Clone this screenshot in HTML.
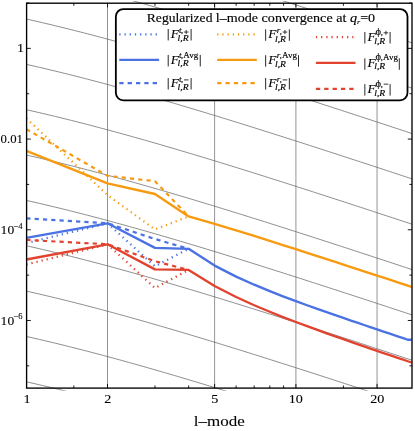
<!DOCTYPE html><html><head><meta charset="utf-8"><title>Regularized l-mode convergence</title><style>html,body{margin:0;padding:0;background:#fff}svg{display:block;will-change:transform}text{font-family:"Liberation Serif",serif;fill:#000;stroke:#000;stroke-width:0.08px}.lg text{stroke-width:0.14px}</style></head><body>
<svg width="415" height="431" viewBox="0 0 415 431">
<rect width="415" height="431" fill="#fff"/>
<defs><clipPath id="cg"><rect x="26.6" y="1.0" width="385.4" height="389.70000000000005"/></clipPath><clipPath id="cp"><rect x="26.6" y="3.2" width="384.9" height="384.90000000000003"/></clipPath></defs>
<line x1="107.50" y1="3.2" x2="107.50" y2="388.1" stroke="#787878" stroke-width="0.8"/>
<line x1="214.60" y1="3.2" x2="214.60" y2="388.1" stroke="#787878" stroke-width="0.8"/>
<line x1="295.91" y1="3.2" x2="295.91" y2="388.1" stroke="#787878" stroke-width="0.8"/>
<line x1="377.05" y1="3.2" x2="377.05" y2="388.1" stroke="#787878" stroke-width="0.8"/>
<g clip-path="url(#cg)" fill="none" stroke="#686868" stroke-width="0.75">
<polyline points="26.60,-117.00 29.81,-116.27 33.02,-115.54 36.23,-114.80 39.45,-114.06 42.66,-113.31 45.87,-112.55 49.08,-111.79 52.29,-111.02 55.50,-110.25 58.72,-109.47 61.93,-108.68 65.14,-107.89 68.35,-107.09 71.56,-106.29 74.78,-105.48 77.99,-104.66 81.20,-103.84 84.41,-103.02 87.62,-102.19 90.83,-101.35 94.04,-100.51 97.26,-99.66 100.47,-98.81 103.68,-97.95 106.89,-97.09 110.10,-96.23 113.31,-95.36 116.53,-94.48 119.74,-93.60 122.95,-92.72 126.16,-91.83 129.37,-90.94 132.58,-90.04 135.80,-89.14 139.01,-88.23 142.22,-87.32 145.43,-86.41 148.64,-85.49 151.85,-84.57 155.07,-83.65 158.28,-82.72 161.49,-81.79 164.70,-80.85 167.91,-79.91 171.12,-78.97 174.34,-78.02 177.55,-77.08 180.76,-76.12 183.97,-75.17 187.18,-74.21 190.39,-73.25 193.61,-72.29 196.82,-71.32 200.03,-70.35 203.24,-69.38 206.45,-68.41 209.66,-67.43 212.88,-66.45 216.09,-65.47 219.30,-64.48 222.51,-63.49 225.72,-62.51 228.93,-61.51 232.15,-60.52 235.36,-59.52 238.57,-58.53 241.78,-57.53 244.99,-56.52 248.20,-55.52 251.42,-54.51 254.63,-53.51 257.84,-52.50 261.05,-51.48 264.26,-50.47 267.48,-49.46 270.69,-48.44 273.90,-47.42 277.11,-46.40 280.32,-45.38 283.53,-44.36 286.75,-43.33 289.96,-42.31 293.17,-41.28 296.38,-40.25 299.59,-39.22 302.80,-38.19 306.01,-37.15 309.23,-36.12 312.44,-35.09 315.65,-34.05 318.86,-33.01 322.07,-31.97 325.29,-30.93 328.50,-29.89 331.71,-28.85 334.92,-27.81 338.13,-26.76 341.34,-25.72 344.56,-24.67 347.77,-23.63 350.98,-22.58 354.19,-21.53 357.40,-20.48 360.61,-19.43 363.83,-18.38 367.04,-17.33 370.25,-16.28 373.46,-15.22 376.67,-14.17 379.88,-13.12 383.09,-12.06 386.31,-11.00 389.52,-9.95 392.73,-8.89 395.94,-7.83 399.15,-6.77 402.37,-5.72 405.58,-4.66 408.79,-3.60 412.00,-2.53"/>
<polyline points="26.60,-71.65 29.81,-70.92 33.02,-70.19 36.23,-69.45 39.45,-68.71 42.66,-67.96 45.87,-67.20 49.08,-66.44 52.29,-65.67 55.50,-64.90 58.72,-64.12 61.93,-63.33 65.14,-62.54 68.35,-61.74 71.56,-60.94 74.78,-60.13 77.99,-59.31 81.20,-58.49 84.41,-57.67 87.62,-56.84 90.83,-56.00 94.04,-55.16 97.26,-54.31 100.47,-53.46 103.68,-52.60 106.89,-51.74 110.10,-50.88 113.31,-50.01 116.53,-49.13 119.74,-48.25 122.95,-47.37 126.16,-46.48 129.37,-45.59 132.58,-44.69 135.80,-43.79 139.01,-42.88 142.22,-41.97 145.43,-41.06 148.64,-40.14 151.85,-39.22 155.07,-38.30 158.28,-37.37 161.49,-36.44 164.70,-35.50 167.91,-34.56 171.12,-33.62 174.34,-32.67 177.55,-31.73 180.76,-30.77 183.97,-29.82 187.18,-28.86 190.39,-27.90 193.61,-26.94 196.82,-25.97 200.03,-25.00 203.24,-24.03 206.45,-23.06 209.66,-22.08 212.88,-21.10 216.09,-20.12 219.30,-19.13 222.51,-18.14 225.72,-17.16 228.93,-16.16 232.15,-15.17 235.36,-14.17 238.57,-13.18 241.78,-12.18 244.99,-11.17 248.20,-10.17 251.42,-9.16 254.63,-8.16 257.84,-7.15 261.05,-6.13 264.26,-5.12 267.48,-4.11 270.69,-3.09 273.90,-2.07 277.11,-1.05 280.32,-0.03 283.53,0.99 286.75,2.02 289.96,3.04 293.17,4.07 296.38,5.10 299.59,6.13 302.80,7.16 306.01,8.20 309.23,9.23 312.44,10.26 315.65,11.30 318.86,12.34 322.07,13.38 325.29,14.42 328.50,15.46 331.71,16.50 334.92,17.54 338.13,18.59 341.34,19.63 344.56,20.68 347.77,21.72 350.98,22.77 354.19,23.82 357.40,24.87 360.61,25.92 363.83,26.97 367.04,28.02 370.25,29.07 373.46,30.13 376.67,31.18 379.88,32.23 383.09,33.29 386.31,34.35 389.52,35.40 392.73,36.46 395.94,37.52 399.15,38.58 402.37,39.63 405.58,40.69 408.79,41.75 412.00,42.82"/>
<polyline points="26.60,-26.30 29.81,-25.57 33.02,-24.84 36.23,-24.10 39.45,-23.36 42.66,-22.61 45.87,-21.85 49.08,-21.09 52.29,-20.32 55.50,-19.55 58.72,-18.77 61.93,-17.98 65.14,-17.19 68.35,-16.39 71.56,-15.59 74.78,-14.78 77.99,-13.96 81.20,-13.14 84.41,-12.32 87.62,-11.49 90.83,-10.65 94.04,-9.81 97.26,-8.96 100.47,-8.11 103.68,-7.25 106.89,-6.39 110.10,-5.53 113.31,-4.66 116.53,-3.78 119.74,-2.90 122.95,-2.02 126.16,-1.13 129.37,-0.24 132.58,0.66 135.80,1.56 139.01,2.47 142.22,3.38 145.43,4.29 148.64,5.21 151.85,6.13 155.07,7.05 158.28,7.98 161.49,8.91 164.70,9.85 167.91,10.79 171.12,11.73 174.34,12.68 177.55,13.62 180.76,14.58 183.97,15.53 187.18,16.49 190.39,17.45 193.61,18.41 196.82,19.38 200.03,20.35 203.24,21.32 206.45,22.29 209.66,23.27 212.88,24.25 216.09,25.23 219.30,26.22 222.51,27.21 225.72,28.19 228.93,29.19 232.15,30.18 235.36,31.18 238.57,32.17 241.78,33.17 244.99,34.18 248.20,35.18 251.42,36.19 254.63,37.19 257.84,38.20 261.05,39.22 264.26,40.23 267.48,41.24 270.69,42.26 273.90,43.28 277.11,44.30 280.32,45.32 283.53,46.34 286.75,47.37 289.96,48.39 293.17,49.42 296.38,50.45 299.59,51.48 302.80,52.51 306.01,53.55 309.23,54.58 312.44,55.61 315.65,56.65 318.86,57.69 322.07,58.73 325.29,59.77 328.50,60.81 331.71,61.85 334.92,62.89 338.13,63.94 341.34,64.98 344.56,66.03 347.77,67.07 350.98,68.12 354.19,69.17 357.40,70.22 360.61,71.27 363.83,72.32 367.04,73.37 370.25,74.42 373.46,75.48 376.67,76.53 379.88,77.58 383.09,78.64 386.31,79.70 389.52,80.75 392.73,81.81 395.94,82.87 399.15,83.93 402.37,84.98 405.58,86.04 408.79,87.10 412.00,88.17"/>
<polyline points="26.60,19.05 29.81,19.78 33.02,20.51 36.23,21.25 39.45,21.99 42.66,22.74 45.87,23.50 49.08,24.26 52.29,25.03 55.50,25.80 58.72,26.58 61.93,27.37 65.14,28.16 68.35,28.96 71.56,29.76 74.78,30.57 77.99,31.39 81.20,32.21 84.41,33.03 87.62,33.86 90.83,34.70 94.04,35.54 97.26,36.39 100.47,37.24 103.68,38.10 106.89,38.96 110.10,39.82 113.31,40.69 116.53,41.57 119.74,42.45 122.95,43.33 126.16,44.22 129.37,45.11 132.58,46.01 135.80,46.91 139.01,47.82 142.22,48.73 145.43,49.64 148.64,50.56 151.85,51.48 155.07,52.40 158.28,53.33 161.49,54.26 164.70,55.20 167.91,56.14 171.12,57.08 174.34,58.03 177.55,58.97 180.76,59.93 183.97,60.88 187.18,61.84 190.39,62.80 193.61,63.76 196.82,64.73 200.03,65.70 203.24,66.67 206.45,67.64 209.66,68.62 212.88,69.60 216.09,70.58 219.30,71.57 222.51,72.56 225.72,73.54 228.93,74.54 232.15,75.53 235.36,76.53 238.57,77.52 241.78,78.52 244.99,79.53 248.20,80.53 251.42,81.54 254.63,82.54 257.84,83.55 261.05,84.57 264.26,85.58 267.48,86.59 270.69,87.61 273.90,88.63 277.11,89.65 280.32,90.67 283.53,91.69 286.75,92.72 289.96,93.74 293.17,94.77 296.38,95.80 299.59,96.83 302.80,97.86 306.01,98.90 309.23,99.93 312.44,100.96 315.65,102.00 318.86,103.04 322.07,104.08 325.29,105.12 328.50,106.16 331.71,107.20 334.92,108.24 338.13,109.29 341.34,110.33 344.56,111.38 347.77,112.42 350.98,113.47 354.19,114.52 357.40,115.57 360.61,116.62 363.83,117.67 367.04,118.72 370.25,119.77 373.46,120.83 376.67,121.88 379.88,122.93 383.09,123.99 386.31,125.05 389.52,126.10 392.73,127.16 395.94,128.22 399.15,129.28 402.37,130.33 405.58,131.39 408.79,132.45 412.00,133.52"/>
<polyline points="26.60,64.40 29.81,65.13 33.02,65.86 36.23,66.60 39.45,67.34 42.66,68.09 45.87,68.85 49.08,69.61 52.29,70.38 55.50,71.15 58.72,71.93 61.93,72.72 65.14,73.51 68.35,74.31 71.56,75.11 74.78,75.92 77.99,76.74 81.20,77.56 84.41,78.38 87.62,79.21 90.83,80.05 94.04,80.89 97.26,81.74 100.47,82.59 103.68,83.45 106.89,84.31 110.10,85.17 113.31,86.04 116.53,86.92 119.74,87.80 122.95,88.68 126.16,89.57 129.37,90.46 132.58,91.36 135.80,92.26 139.01,93.17 142.22,94.08 145.43,94.99 148.64,95.91 151.85,96.83 155.07,97.75 158.28,98.68 161.49,99.61 164.70,100.55 167.91,101.49 171.12,102.43 174.34,103.38 177.55,104.32 180.76,105.28 183.97,106.23 187.18,107.19 190.39,108.15 193.61,109.11 196.82,110.08 200.03,111.05 203.24,112.02 206.45,112.99 209.66,113.97 212.88,114.95 216.09,115.93 219.30,116.92 222.51,117.91 225.72,118.89 228.93,119.89 232.15,120.88 235.36,121.88 238.57,122.87 241.78,123.87 244.99,124.88 248.20,125.88 251.42,126.89 254.63,127.89 257.84,128.90 261.05,129.92 264.26,130.93 267.48,131.94 270.69,132.96 273.90,133.98 277.11,135.00 280.32,136.02 283.53,137.04 286.75,138.07 289.96,139.09 293.17,140.12 296.38,141.15 299.59,142.18 302.80,143.21 306.01,144.25 309.23,145.28 312.44,146.31 315.65,147.35 318.86,148.39 322.07,149.43 325.29,150.47 328.50,151.51 331.71,152.55 334.92,153.59 338.13,154.64 341.34,155.68 344.56,156.73 347.77,157.77 350.98,158.82 354.19,159.87 357.40,160.92 360.61,161.97 363.83,163.02 367.04,164.07 370.25,165.12 373.46,166.18 376.67,167.23 379.88,168.28 383.09,169.34 386.31,170.40 389.52,171.45 392.73,172.51 395.94,173.57 399.15,174.63 402.37,175.68 405.58,176.74 408.79,177.80 412.00,178.87"/>
<polyline points="26.60,109.75 29.81,110.48 33.02,111.21 36.23,111.95 39.45,112.69 42.66,113.44 45.87,114.20 49.08,114.96 52.29,115.73 55.50,116.50 58.72,117.28 61.93,118.07 65.14,118.86 68.35,119.66 71.56,120.46 74.78,121.27 77.99,122.09 81.20,122.91 84.41,123.73 87.62,124.56 90.83,125.40 94.04,126.24 97.26,127.09 100.47,127.94 103.68,128.80 106.89,129.66 110.10,130.52 113.31,131.39 116.53,132.27 119.74,133.15 122.95,134.03 126.16,134.92 129.37,135.81 132.58,136.71 135.80,137.61 139.01,138.52 142.22,139.43 145.43,140.34 148.64,141.26 151.85,142.18 155.07,143.10 158.28,144.03 161.49,144.96 164.70,145.90 167.91,146.84 171.12,147.78 174.34,148.73 177.55,149.67 180.76,150.63 183.97,151.58 187.18,152.54 190.39,153.50 193.61,154.46 196.82,155.43 200.03,156.40 203.24,157.37 206.45,158.34 209.66,159.32 212.88,160.30 216.09,161.28 219.30,162.27 222.51,163.26 225.72,164.24 228.93,165.24 232.15,166.23 235.36,167.23 238.57,168.22 241.78,169.22 244.99,170.23 248.20,171.23 251.42,172.24 254.63,173.24 257.84,174.25 261.05,175.27 264.26,176.28 267.48,177.29 270.69,178.31 273.90,179.33 277.11,180.35 280.32,181.37 283.53,182.39 286.75,183.42 289.96,184.44 293.17,185.47 296.38,186.50 299.59,187.53 302.80,188.56 306.01,189.60 309.23,190.63 312.44,191.66 315.65,192.70 318.86,193.74 322.07,194.78 325.29,195.82 328.50,196.86 331.71,197.90 334.92,198.94 338.13,199.99 341.34,201.03 344.56,202.08 347.77,203.12 350.98,204.17 354.19,205.22 357.40,206.27 360.61,207.32 363.83,208.37 367.04,209.42 370.25,210.47 373.46,211.53 376.67,212.58 379.88,213.63 383.09,214.69 386.31,215.75 389.52,216.80 392.73,217.86 395.94,218.92 399.15,219.98 402.37,221.03 405.58,222.09 408.79,223.15 412.00,224.22"/>
<polyline points="26.60,155.10 29.81,155.83 33.02,156.56 36.23,157.30 39.45,158.04 42.66,158.79 45.87,159.55 49.08,160.31 52.29,161.08 55.50,161.85 58.72,162.63 61.93,163.42 65.14,164.21 68.35,165.01 71.56,165.81 74.78,166.62 77.99,167.44 81.20,168.26 84.41,169.08 87.62,169.91 90.83,170.75 94.04,171.59 97.26,172.44 100.47,173.29 103.68,174.15 106.89,175.01 110.10,175.87 113.31,176.74 116.53,177.62 119.74,178.50 122.95,179.38 126.16,180.27 129.37,181.16 132.58,182.06 135.80,182.96 139.01,183.87 142.22,184.78 145.43,185.69 148.64,186.61 151.85,187.53 155.07,188.45 158.28,189.38 161.49,190.31 164.70,191.25 167.91,192.19 171.12,193.13 174.34,194.08 177.55,195.02 180.76,195.98 183.97,196.93 187.18,197.89 190.39,198.85 193.61,199.81 196.82,200.78 200.03,201.75 203.24,202.72 206.45,203.69 209.66,204.67 212.88,205.65 216.09,206.63 219.30,207.62 222.51,208.61 225.72,209.59 228.93,210.59 232.15,211.58 235.36,212.58 238.57,213.57 241.78,214.57 244.99,215.58 248.20,216.58 251.42,217.59 254.63,218.59 257.84,219.60 261.05,220.62 264.26,221.63 267.48,222.64 270.69,223.66 273.90,224.68 277.11,225.70 280.32,226.72 283.53,227.74 286.75,228.77 289.96,229.79 293.17,230.82 296.38,231.85 299.59,232.88 302.80,233.91 306.01,234.95 309.23,235.98 312.44,237.01 315.65,238.05 318.86,239.09 322.07,240.13 325.29,241.17 328.50,242.21 331.71,243.25 334.92,244.29 338.13,245.34 341.34,246.38 344.56,247.43 347.77,248.47 350.98,249.52 354.19,250.57 357.40,251.62 360.61,252.67 363.83,253.72 367.04,254.77 370.25,255.82 373.46,256.88 376.67,257.93 379.88,258.98 383.09,260.04 386.31,261.10 389.52,262.15 392.73,263.21 395.94,264.27 399.15,265.33 402.37,266.38 405.58,267.44 408.79,268.50 412.00,269.57"/>
<polyline points="26.60,200.45 29.81,201.18 33.02,201.91 36.23,202.65 39.45,203.39 42.66,204.14 45.87,204.90 49.08,205.66 52.29,206.43 55.50,207.20 58.72,207.98 61.93,208.77 65.14,209.56 68.35,210.36 71.56,211.16 74.78,211.97 77.99,212.79 81.20,213.61 84.41,214.43 87.62,215.26 90.83,216.10 94.04,216.94 97.26,217.79 100.47,218.64 103.68,219.50 106.89,220.36 110.10,221.22 113.31,222.09 116.53,222.97 119.74,223.85 122.95,224.73 126.16,225.62 129.37,226.51 132.58,227.41 135.80,228.31 139.01,229.22 142.22,230.13 145.43,231.04 148.64,231.96 151.85,232.88 155.07,233.80 158.28,234.73 161.49,235.66 164.70,236.60 167.91,237.54 171.12,238.48 174.34,239.43 177.55,240.37 180.76,241.33 183.97,242.28 187.18,243.24 190.39,244.20 193.61,245.16 196.82,246.13 200.03,247.10 203.24,248.07 206.45,249.04 209.66,250.02 212.88,251.00 216.09,251.98 219.30,252.97 222.51,253.96 225.72,254.94 228.93,255.94 232.15,256.93 235.36,257.93 238.57,258.92 241.78,259.92 244.99,260.93 248.20,261.93 251.42,262.94 254.63,263.94 257.84,264.95 261.05,265.97 264.26,266.98 267.48,267.99 270.69,269.01 273.90,270.03 277.11,271.05 280.32,272.07 283.53,273.09 286.75,274.12 289.96,275.14 293.17,276.17 296.38,277.20 299.59,278.23 302.80,279.26 306.01,280.30 309.23,281.33 312.44,282.36 315.65,283.40 318.86,284.44 322.07,285.48 325.29,286.52 328.50,287.56 331.71,288.60 334.92,289.64 338.13,290.69 341.34,291.73 344.56,292.78 347.77,293.82 350.98,294.87 354.19,295.92 357.40,296.97 360.61,298.02 363.83,299.07 367.04,300.12 370.25,301.17 373.46,302.23 376.67,303.28 379.88,304.33 383.09,305.39 386.31,306.45 389.52,307.50 392.73,308.56 395.94,309.62 399.15,310.68 402.37,311.73 405.58,312.79 408.79,313.85 412.00,314.92"/>
<polyline points="26.60,245.80 29.81,246.53 33.02,247.26 36.23,248.00 39.45,248.74 42.66,249.49 45.87,250.25 49.08,251.01 52.29,251.78 55.50,252.55 58.72,253.33 61.93,254.12 65.14,254.91 68.35,255.71 71.56,256.51 74.78,257.32 77.99,258.14 81.20,258.96 84.41,259.78 87.62,260.61 90.83,261.45 94.04,262.29 97.26,263.14 100.47,263.99 103.68,264.85 106.89,265.71 110.10,266.57 113.31,267.44 116.53,268.32 119.74,269.20 122.95,270.08 126.16,270.97 129.37,271.86 132.58,272.76 135.80,273.66 139.01,274.57 142.22,275.48 145.43,276.39 148.64,277.31 151.85,278.23 155.07,279.15 158.28,280.08 161.49,281.01 164.70,281.95 167.91,282.89 171.12,283.83 174.34,284.78 177.55,285.72 180.76,286.68 183.97,287.63 187.18,288.59 190.39,289.55 193.61,290.51 196.82,291.48 200.03,292.45 203.24,293.42 206.45,294.39 209.66,295.37 212.88,296.35 216.09,297.33 219.30,298.32 222.51,299.31 225.72,300.29 228.93,301.29 232.15,302.28 235.36,303.28 238.57,304.27 241.78,305.27 244.99,306.28 248.20,307.28 251.42,308.29 254.63,309.29 257.84,310.30 261.05,311.32 264.26,312.33 267.48,313.34 270.69,314.36 273.90,315.38 277.11,316.40 280.32,317.42 283.53,318.44 286.75,319.47 289.96,320.49 293.17,321.52 296.38,322.55 299.59,323.58 302.80,324.61 306.01,325.65 309.23,326.68 312.44,327.71 315.65,328.75 318.86,329.79 322.07,330.83 325.29,331.87 328.50,332.91 331.71,333.95 334.92,334.99 338.13,336.04 341.34,337.08 344.56,338.13 347.77,339.17 350.98,340.22 354.19,341.27 357.40,342.32 360.61,343.37 363.83,344.42 367.04,345.47 370.25,346.52 373.46,347.58 376.67,348.63 379.88,349.68 383.09,350.74 386.31,351.80 389.52,352.85 392.73,353.91 395.94,354.97 399.15,356.03 402.37,357.08 405.58,358.14 408.79,359.20 412.00,360.27"/>
<polyline points="26.60,291.15 29.81,291.88 33.02,292.61 36.23,293.35 39.45,294.09 42.66,294.84 45.87,295.60 49.08,296.36 52.29,297.13 55.50,297.90 58.72,298.68 61.93,299.47 65.14,300.26 68.35,301.06 71.56,301.86 74.78,302.67 77.99,303.49 81.20,304.31 84.41,305.13 87.62,305.96 90.83,306.80 94.04,307.64 97.26,308.49 100.47,309.34 103.68,310.20 106.89,311.06 110.10,311.92 113.31,312.79 116.53,313.67 119.74,314.55 122.95,315.43 126.16,316.32 129.37,317.21 132.58,318.11 135.80,319.01 139.01,319.92 142.22,320.83 145.43,321.74 148.64,322.66 151.85,323.58 155.07,324.50 158.28,325.43 161.49,326.36 164.70,327.30 167.91,328.24 171.12,329.18 174.34,330.13 177.55,331.07 180.76,332.03 183.97,332.98 187.18,333.94 190.39,334.90 193.61,335.86 196.82,336.83 200.03,337.80 203.24,338.77 206.45,339.74 209.66,340.72 212.88,341.70 216.09,342.68 219.30,343.67 222.51,344.66 225.72,345.64 228.93,346.64 232.15,347.63 235.36,348.63 238.57,349.62 241.78,350.62 244.99,351.63 248.20,352.63 251.42,353.64 254.63,354.64 257.84,355.65 261.05,356.67 264.26,357.68 267.48,358.69 270.69,359.71 273.90,360.73 277.11,361.75 280.32,362.77 283.53,363.79 286.75,364.82 289.96,365.84 293.17,366.87 296.38,367.90 299.59,368.93 302.80,369.96 306.01,371.00 309.23,372.03 312.44,373.06 315.65,374.10 318.86,375.14 322.07,376.18 325.29,377.22 328.50,378.26 331.71,379.30 334.92,380.34 338.13,381.39 341.34,382.43 344.56,383.48 347.77,384.52 350.98,385.57 354.19,386.62 357.40,387.67 360.61,388.72 363.83,389.77 367.04,390.82 370.25,391.87 373.46,392.93 376.67,393.98 379.88,395.03 383.09,396.09 386.31,397.15 389.52,398.20 392.73,399.26 395.94,400.32 399.15,401.38 402.37,402.43 405.58,403.49 408.79,404.55 412.00,405.62"/>
<polyline points="26.60,336.50 29.81,337.23 33.02,337.96 36.23,338.70 39.45,339.44 42.66,340.19 45.87,340.95 49.08,341.71 52.29,342.48 55.50,343.25 58.72,344.03 61.93,344.82 65.14,345.61 68.35,346.41 71.56,347.21 74.78,348.02 77.99,348.84 81.20,349.66 84.41,350.48 87.62,351.31 90.83,352.15 94.04,352.99 97.26,353.84 100.47,354.69 103.68,355.55 106.89,356.41 110.10,357.27 113.31,358.14 116.53,359.02 119.74,359.90 122.95,360.78 126.16,361.67 129.37,362.56 132.58,363.46 135.80,364.36 139.01,365.27 142.22,366.18 145.43,367.09 148.64,368.01 151.85,368.93 155.07,369.85 158.28,370.78 161.49,371.71 164.70,372.65 167.91,373.59 171.12,374.53 174.34,375.48 177.55,376.42 180.76,377.38 183.97,378.33 187.18,379.29 190.39,380.25 193.61,381.21 196.82,382.18 200.03,383.15 203.24,384.12 206.45,385.09 209.66,386.07 212.88,387.05 216.09,388.03 219.30,389.02 222.51,390.01 225.72,390.99 228.93,391.99 232.15,392.98 235.36,393.98 238.57,394.97 241.78,395.97 244.99,396.98 248.20,397.98 251.42,398.99 254.63,399.99 257.84,401.00 261.05,402.02 264.26,403.03 267.48,404.04 270.69,405.06 273.90,406.08 277.11,407.10 280.32,408.12 283.53,409.14 286.75,410.17 289.96,411.19 293.17,412.22 296.38,413.25 299.59,414.28 302.80,415.31 306.01,416.35 309.23,417.38 312.44,418.41 315.65,419.45 318.86,420.49 322.07,421.53 325.29,422.57 328.50,423.61 331.71,424.65 334.92,425.69 338.13,426.74 341.34,427.78 344.56,428.83 347.77,429.87 350.98,430.92 354.19,431.97 357.40,433.02 360.61,434.07 363.83,435.12 367.04,436.17 370.25,437.22 373.46,438.28 376.67,439.33 379.88,440.38 383.09,441.44 386.31,442.50 389.52,443.55 392.73,444.61 395.94,445.67 399.15,446.73 402.37,447.78 405.58,448.84 408.79,449.90 412.00,450.97"/>
<polyline points="26.60,381.85 29.81,382.58 33.02,383.31 36.23,384.05 39.45,384.79 42.66,385.54 45.87,386.30 49.08,387.06 52.29,387.83 55.50,388.60 58.72,389.38 61.93,390.17 65.14,390.96 68.35,391.76 71.56,392.56 74.78,393.37 77.99,394.19 81.20,395.01 84.41,395.83 87.62,396.66 90.83,397.50 94.04,398.34 97.26,399.19 100.47,400.04 103.68,400.90 106.89,401.76 110.10,402.62 113.31,403.49 116.53,404.37 119.74,405.25 122.95,406.13 126.16,407.02 129.37,407.91 132.58,408.81 135.80,409.71 139.01,410.62 142.22,411.53 145.43,412.44 148.64,413.36 151.85,414.28 155.07,415.20 158.28,416.13 161.49,417.06 164.70,418.00 167.91,418.94 171.12,419.88 174.34,420.83 177.55,421.77 180.76,422.73 183.97,423.68 187.18,424.64 190.39,425.60 193.61,426.56 196.82,427.53 200.03,428.50 203.24,429.47 206.45,430.44 209.66,431.42 212.88,432.40 216.09,433.38 219.30,434.37 222.51,435.36 225.72,436.34 228.93,437.34 232.15,438.33 235.36,439.33 238.57,440.32 241.78,441.32 244.99,442.33 248.20,443.33 251.42,444.34 254.63,445.34 257.84,446.35 261.05,447.37 264.26,448.38 267.48,449.39 270.69,450.41 273.90,451.43 277.11,452.45 280.32,453.47 283.53,454.49 286.75,455.52 289.96,456.54 293.17,457.57 296.38,458.60 299.59,459.63 302.80,460.66 306.01,461.70 309.23,462.73 312.44,463.76 315.65,464.80 318.86,465.84 322.07,466.88 325.29,467.92 328.50,468.96 331.71,470.00 334.92,471.04 338.13,472.09 341.34,473.13 344.56,474.18 347.77,475.22 350.98,476.27 354.19,477.32 357.40,478.37 360.61,479.42 363.83,480.47 367.04,481.52 370.25,482.57 373.46,483.63 376.67,484.68 379.88,485.73 383.09,486.79 386.31,487.85 389.52,488.90 392.73,489.96 395.94,491.02 399.15,492.08 402.37,493.13 405.58,494.19 408.79,495.25 412.00,496.32"/>
<polyline points="26.60,427.20 29.81,427.93 33.02,428.66 36.23,429.40 39.45,430.14 42.66,430.89 45.87,431.65 49.08,432.41 52.29,433.18 55.50,433.95 58.72,434.73 61.93,435.52 65.14,436.31 68.35,437.11 71.56,437.91 74.78,438.72 77.99,439.54 81.20,440.36 84.41,441.18 87.62,442.01 90.83,442.85 94.04,443.69 97.26,444.54 100.47,445.39 103.68,446.25 106.89,447.11 110.10,447.97 113.31,448.84 116.53,449.72 119.74,450.60 122.95,451.48 126.16,452.37 129.37,453.26 132.58,454.16 135.80,455.06 139.01,455.97 142.22,456.88 145.43,457.79 148.64,458.71 151.85,459.63 155.07,460.55 158.28,461.48 161.49,462.41 164.70,463.35 167.91,464.29 171.12,465.23 174.34,466.18 177.55,467.12 180.76,468.08 183.97,469.03 187.18,469.99 190.39,470.95 193.61,471.91 196.82,472.88 200.03,473.85 203.24,474.82 206.45,475.79 209.66,476.77 212.88,477.75 216.09,478.73 219.30,479.72 222.51,480.71 225.72,481.69 228.93,482.69 232.15,483.68 235.36,484.68 238.57,485.67 241.78,486.67 244.99,487.68 248.20,488.68 251.42,489.69 254.63,490.69 257.84,491.70 261.05,492.72 264.26,493.73 267.48,494.74 270.69,495.76 273.90,496.78 277.11,497.80 280.32,498.82 283.53,499.84 286.75,500.87 289.96,501.89 293.17,502.92 296.38,503.95 299.59,504.98 302.80,506.01 306.01,507.05 309.23,508.08 312.44,509.11 315.65,510.15 318.86,511.19 322.07,512.23 325.29,513.27 328.50,514.31 331.71,515.35 334.92,516.39 338.13,517.44 341.34,518.48 344.56,519.53 347.77,520.57 350.98,521.62 354.19,522.67 357.40,523.72 360.61,524.77 363.83,525.82 367.04,526.87 370.25,527.92 373.46,528.98 376.67,530.03 379.88,531.08 383.09,532.14 386.31,533.20 389.52,534.25 392.73,535.31 395.94,536.37 399.15,537.43 402.37,538.48 405.58,539.54 408.79,540.60 412.00,541.67"/>
</g>
<g clip-path="url(#cp)" fill="none" stroke-linejoin="round">
<polyline points="26.36,243.10 107.50,223.30 154.97,266.30 188.65,248.85" stroke="#4a72e3" stroke-width="2.3" stroke-dasharray="1.25 3.95"/>
<polyline points="26.36,237.90 107.50,223.30 154.97,247.90 188.65,248.85 214.60,265.58 236.11,276.58 254.16,284.71 269.79,291.16 283.58,296.54 295.91,301.16 307.07,305.23 317.25,308.86 326.62,312.16 335.30,315.18 343.38,317.97 350.93,320.56 358.03,322.98 364.72,325.26 371.05,327.40 377.05,329.43 382.76,331.35 388.21,333.19 393.41,334.94 398.40,336.61 403.17,338.21 407.77,339.75 412.18,339.75" stroke="#4a72e3" stroke-width="2.35"/>
<polyline points="26.36,218.40 107.50,223.30 154.97,239.00 188.65,248.85" stroke="#4a72e3" stroke-width="2.2" stroke-dasharray="4.2 4.1"/>
<polyline points="26.36,118.30 107.50,195.10 154.97,229.45 188.65,216.45" stroke="#f89a10" stroke-width="2.3" stroke-dasharray="1.25 3.95"/>
<polyline points="26.36,150.80 107.50,183.30 154.97,194.00 188.65,216.45 214.60,223.91 236.11,230.38 254.16,235.99 269.79,240.91 283.58,245.28 295.91,249.22 307.07,252.81 317.25,256.09 326.62,259.12 335.30,261.94 343.38,264.56 350.93,267.03 358.03,269.34 364.72,271.53 371.05,273.61 377.05,275.58 382.76,277.45 388.21,279.24 393.41,280.96 398.40,282.60 403.17,284.17 407.77,285.69 412.18,287.15" stroke="#f89a10" stroke-width="2.35"/>
<polyline points="26.36,129.10 107.50,175.80 154.97,181.20 188.65,216.45" stroke="#f89a10" stroke-width="2.2" stroke-dasharray="4.2 4.1"/>
<polyline points="26.36,264.40 107.50,244.30 154.97,288.00 188.65,269.95" stroke="#e2432f" stroke-width="2.3" stroke-dasharray="1.25 3.95"/>
<polyline points="26.36,259.50 107.50,244.30 154.97,269.40 188.65,269.95 214.60,286.04 236.11,296.98 254.16,305.21 269.79,311.79 283.58,317.29 295.91,322.02 307.07,326.19 317.25,329.91 326.62,333.28 335.30,336.36 343.38,339.20 350.93,341.83 358.03,344.29 364.72,346.60 371.05,348.78 377.05,350.83 382.76,352.78 388.21,354.63 393.41,356.40 398.40,358.09 403.17,359.71 407.77,361.26 412.18,362.75" stroke="#e2432f" stroke-width="2.35"/>
<polyline points="26.36,239.90 107.50,244.30 154.97,261.20 188.65,269.95" stroke="#e2432f" stroke-width="2.2" stroke-dasharray="4.2 4.1"/>
</g>
<rect x="26.6" y="3.2" width="385.4" height="384.90000000000003" fill="none" stroke="#000" stroke-width="1.35"/>
<path d="M107.50,388.1v-4.2M107.50,3.2v4.2M214.60,388.1v-4.2M214.60,3.2v4.2M295.91,388.1v-4.2M295.91,3.2v4.2M377.05,388.1v-4.2M377.05,3.2v4.2M73.83,388.1v-2.6M73.83,3.2v2.6M154.97,388.1v-2.6M154.97,3.2v2.6M188.65,388.1v-2.6M188.65,3.2v2.6M236.11,388.1v-2.6M236.11,3.2v2.6M254.16,388.1v-2.6M254.16,3.2v2.6M269.79,388.1v-2.6M269.79,3.2v2.6M283.58,388.1v-2.6M283.58,3.2v2.6M343.38,388.1v-2.6M343.38,3.2v2.6M26.6,365.82h2.6M412.0,365.82h-2.6M26.6,320.47h4.2M412.0,320.47h-4.2M26.6,275.12h2.6M412.0,275.12h-2.6M26.6,229.77h4.2M412.0,229.77h-4.2M26.6,184.42h2.6M412.0,184.42h-2.6M26.6,139.07h4.2M412.0,139.07h-4.2M26.6,93.72h2.6M412.0,93.72h-2.6M26.6,48.37h4.2M412.0,48.37h-4.2M26.6,3.02h2.6M412.0,3.02h-2.6" stroke="#000" stroke-width="0.9" fill="none"/>
<text transform="translate(27.10,402.80) scale(1.18,1)" font-size="12" text-anchor="middle">1</text>
<text transform="translate(107.70,402.80) scale(1.18,1)" font-size="12" text-anchor="middle">2</text>
<text transform="translate(214.90,402.80) scale(1.18,1)" font-size="12" text-anchor="middle">5</text>
<text transform="translate(295.80,402.80) scale(1.18,1)" font-size="12" text-anchor="middle">10</text>
<text transform="translate(377.20,402.80) scale(1.18,1)" font-size="12" text-anchor="middle">20</text>
<text transform="translate(24.10,52.27) scale(1.18,1)" font-size="12" text-anchor="end">1</text>
<text transform="translate(22.90,143.17) scale(1.065,1)" font-size="12" text-anchor="end">0.01</text>
<text transform="translate(0.60,233.87) scale(1.13,1)" font-size="12" text-anchor="start">10</text>
<text transform="translate(13.40,228.77) scale(1.08,1)" font-size="8.0" text-anchor="start">−4</text>
<text transform="translate(0.60,324.57) scale(1.13,1)" font-size="12" text-anchor="start">10</text>
<text transform="translate(13.40,319.47) scale(1.08,1)" font-size="8.0" text-anchor="start">−6</text>
<text transform="translate(219.30,426.00) scale(1.11,1)" font-size="15.3" text-anchor="middle">l–mode</text>
<g class="lg">
<rect x="115.85" y="9.05" width="291.65" height="91.3" rx="7.5" ry="7.5" fill="#fff" stroke="#000" stroke-width="1.8"/>
<text transform="translate(146.80,21.50) scale(1.133,1)" font-size="12" text-anchor="start">Regularized</text>
<text transform="translate(215.75,21.50) scale(1.177,1)" font-size="12" text-anchor="start">l–mode convergence at <tspan font-style="italic">q</tspan><tspan font-style="italic" font-size="7" dy="2.0">r</tspan><tspan dy="-2.0">=0</tspan></text>
<line x1="119.3" y1="34.4" x2="159.1" y2="34.4" stroke="#4a72e3" stroke-width="2.3" stroke-dasharray="1.25 3.94"/>
<line x1="119.3" y1="59.95" x2="159.1" y2="59.95" stroke="#4a72e3" stroke-width="2.2"/>
<line x1="119.3" y1="83.05" x2="159.1" y2="83.05" stroke="#4a72e3" stroke-width="2.2" stroke-dasharray="4.3 4.04"/>
<line x1="168.21" y1="28.95" x2="168.21" y2="40.449999999999996" stroke="#000" stroke-width="0.85"/>
<text transform="translate(170.76,37.65) scale(1.12,1)" font-size="12" text-anchor="start" font-style="italic">F</text>
<text transform="translate(178.96,32.95) scale(1.1,1)" font-size="8.4" text-anchor="start" font-style="italic">t</text>
<text transform="translate(181.06,33.25) scale(1.18,1)" font-size="7.3" text-anchor="start">,</text>
<path d="M183.91,32.05h4.6M186.21,29.95v4.2" stroke="#000" stroke-width="0.75" fill="none"/>
<text transform="translate(177.56,41.15) scale(1.27,1)" font-size="7.6" text-anchor="start" font-style="italic">l,R</text>
<line x1="191.11" y1="28.95" x2="191.11" y2="40.449999999999996" stroke="#000" stroke-width="0.85"/>
<line x1="168.21" y1="54.959999999999994" x2="168.21" y2="66.46" stroke="#000" stroke-width="0.85"/>
<text transform="translate(170.76,63.66) scale(1.12,1)" font-size="12" text-anchor="start" font-style="italic">F</text>
<text transform="translate(178.96,57.91) scale(1.1,1)" font-size="8.4" text-anchor="start" font-style="italic">t</text>
<text transform="translate(181.06,58.21) scale(1.18,1)" font-size="7.3" text-anchor="start">,</text>
<text transform="translate(183.36,57.91) scale(1.24,1)" font-size="7.3" text-anchor="start">Avg</text>
<text transform="translate(177.56,66.46) scale(1.27,1)" font-size="7.6" text-anchor="start" font-style="italic">l,R</text>
<line x1="200.26" y1="54.959999999999994" x2="200.26" y2="66.46" stroke="#000" stroke-width="0.85"/>
<line x1="168.21" y1="78.0" x2="168.21" y2="89.5" stroke="#000" stroke-width="0.85"/>
<text transform="translate(170.76,86.70) scale(1.12,1)" font-size="12" text-anchor="start" font-style="italic">F</text>
<text transform="translate(178.96,82.00) scale(1.1,1)" font-size="8.4" text-anchor="start" font-style="italic">t</text>
<text transform="translate(181.06,82.30) scale(1.18,1)" font-size="7.3" text-anchor="start">,</text>
<path d="M183.91,79.90h4.6" stroke="#000" stroke-width="0.8" fill="none"/>
<text transform="translate(177.56,89.90) scale(1.27,1)" font-size="7.6" text-anchor="start" font-style="italic">l,R</text>
<line x1="191.11" y1="78.0" x2="191.11" y2="89.5" stroke="#000" stroke-width="0.85"/>
<line x1="217.15" y1="34.4" x2="256.8" y2="34.4" stroke="#f89a10" stroke-width="2.3" stroke-dasharray="1.25 3.94"/>
<line x1="217.15" y1="59.9" x2="256.8" y2="59.9" stroke="#f89a10" stroke-width="2.2"/>
<line x1="217.15" y1="83.05" x2="256.8" y2="83.05" stroke="#f89a10" stroke-width="2.2" stroke-dasharray="4.3 4.04"/>
<line x1="265.65" y1="29.3" x2="265.65" y2="40.8" stroke="#000" stroke-width="0.85"/>
<text transform="translate(268.20,38.00) scale(1.12,1)" font-size="12" text-anchor="start" font-style="italic">F</text>
<text transform="translate(276.70,33.30) scale(1.12,1)" font-size="8.2" text-anchor="start" font-style="italic">r</text>
<text transform="translate(279.80,33.60) scale(1.18,1)" font-size="7.3" text-anchor="start">,</text>
<path d="M282.65,32.05h4.6M284.95,29.95v4.2" stroke="#000" stroke-width="0.75" fill="none"/>
<text transform="translate(275.00,41.50) scale(1.27,1)" font-size="7.6" text-anchor="start" font-style="italic">l,R</text>
<line x1="289.35" y1="29.3" x2="289.35" y2="40.8" stroke="#000" stroke-width="0.85"/>
<line x1="265.65" y1="55.2" x2="265.65" y2="66.7" stroke="#000" stroke-width="0.85"/>
<text transform="translate(268.20,63.90) scale(1.12,1)" font-size="12" text-anchor="start" font-style="italic">F</text>
<text transform="translate(276.70,58.15) scale(1.12,1)" font-size="8.2" text-anchor="start" font-style="italic">r</text>
<text transform="translate(279.80,58.45) scale(1.18,1)" font-size="7.3" text-anchor="start">,</text>
<text transform="translate(282.10,58.15) scale(1.24,1)" font-size="7.3" text-anchor="start">Avg</text>
<text transform="translate(275.00,66.70) scale(1.27,1)" font-size="7.6" text-anchor="start" font-style="italic">l,R</text>
<line x1="298.50" y1="55.2" x2="298.50" y2="66.7" stroke="#000" stroke-width="0.85"/>
<line x1="265.65" y1="78.0" x2="265.65" y2="89.5" stroke="#000" stroke-width="0.85"/>
<text transform="translate(268.20,86.70) scale(1.12,1)" font-size="12" text-anchor="start" font-style="italic">F</text>
<text transform="translate(276.70,82.00) scale(1.12,1)" font-size="8.2" text-anchor="start" font-style="italic">r</text>
<text transform="translate(279.80,82.30) scale(1.18,1)" font-size="7.3" text-anchor="start">,</text>
<path d="M282.65,79.90h4.6" stroke="#000" stroke-width="0.8" fill="none"/>
<text transform="translate(275.00,89.90) scale(1.27,1)" font-size="7.6" text-anchor="start" font-style="italic">l,R</text>
<line x1="289.35" y1="78.0" x2="289.35" y2="89.5" stroke="#000" stroke-width="0.85"/>
<line x1="315.9" y1="37.1" x2="355.5" y2="37.1" stroke="#e2432f" stroke-width="2.3" stroke-dasharray="1.25 3.94"/>
<line x1="315.9" y1="62.95" x2="355.5" y2="62.95" stroke="#e2432f" stroke-width="2.2"/>
<line x1="315.9" y1="88.9" x2="355.5" y2="88.9" stroke="#e2432f" stroke-width="2.2" stroke-dasharray="4.3 4.04"/>
<line x1="364.84999999999997" y1="32.0" x2="364.84999999999997" y2="43.5" stroke="#000" stroke-width="0.85"/>
<text transform="translate(367.40,40.70) scale(1.12,1)" font-size="12" text-anchor="start" font-style="italic">F</text>
<text transform="translate(375.40,34.70) scale(1.12,1)" font-size="9.4" text-anchor="start">ϕ</text>
<text transform="translate(380.80,34.60) scale(1.18,1)" font-size="7.3" text-anchor="start">,</text>
<path d="M383.65,32.80h4.6M385.95,30.70v4.2" stroke="#000" stroke-width="0.75" fill="none"/>
<text transform="translate(374.20,43.70) scale(1.27,1)" font-size="7.6" text-anchor="start" font-style="italic">l,R</text>
<line x1="390.10" y1="32.0" x2="390.10" y2="43.5" stroke="#000" stroke-width="0.85"/>
<line x1="364.84999999999997" y1="58.3" x2="364.84999999999997" y2="69.8" stroke="#000" stroke-width="0.85"/>
<text transform="translate(367.40,67.00) scale(1.12,1)" font-size="12" text-anchor="start" font-style="italic">F</text>
<text transform="translate(375.40,59.95) scale(1.12,1)" font-size="9.4" text-anchor="start">ϕ</text>
<text transform="translate(380.80,59.85) scale(1.18,1)" font-size="7.3" text-anchor="start">,</text>
<text transform="translate(383.10,59.55) scale(1.24,1)" font-size="7.3" text-anchor="start">Avg</text>
<text transform="translate(374.20,69.30) scale(1.27,1)" font-size="7.6" text-anchor="start" font-style="italic">l,R</text>
<line x1="399.30" y1="58.3" x2="399.30" y2="69.8" stroke="#000" stroke-width="0.85"/>
<line x1="364.84999999999997" y1="84.1" x2="364.84999999999997" y2="95.6" stroke="#000" stroke-width="0.85"/>
<text transform="translate(367.40,92.80) scale(1.12,1)" font-size="12" text-anchor="start" font-style="italic">F</text>
<text transform="translate(375.40,86.80) scale(1.12,1)" font-size="9.4" text-anchor="start">ϕ</text>
<text transform="translate(380.80,86.70) scale(1.18,1)" font-size="7.3" text-anchor="start">,</text>
<path d="M383.65,84.15h4.6" stroke="#000" stroke-width="0.8" fill="none"/>
<text transform="translate(374.20,95.50) scale(1.27,1)" font-size="7.6" text-anchor="start" font-style="italic">l,R</text>
<line x1="390.10" y1="84.1" x2="390.10" y2="95.6" stroke="#000" stroke-width="0.85"/>
</g>
</svg></body></html>
